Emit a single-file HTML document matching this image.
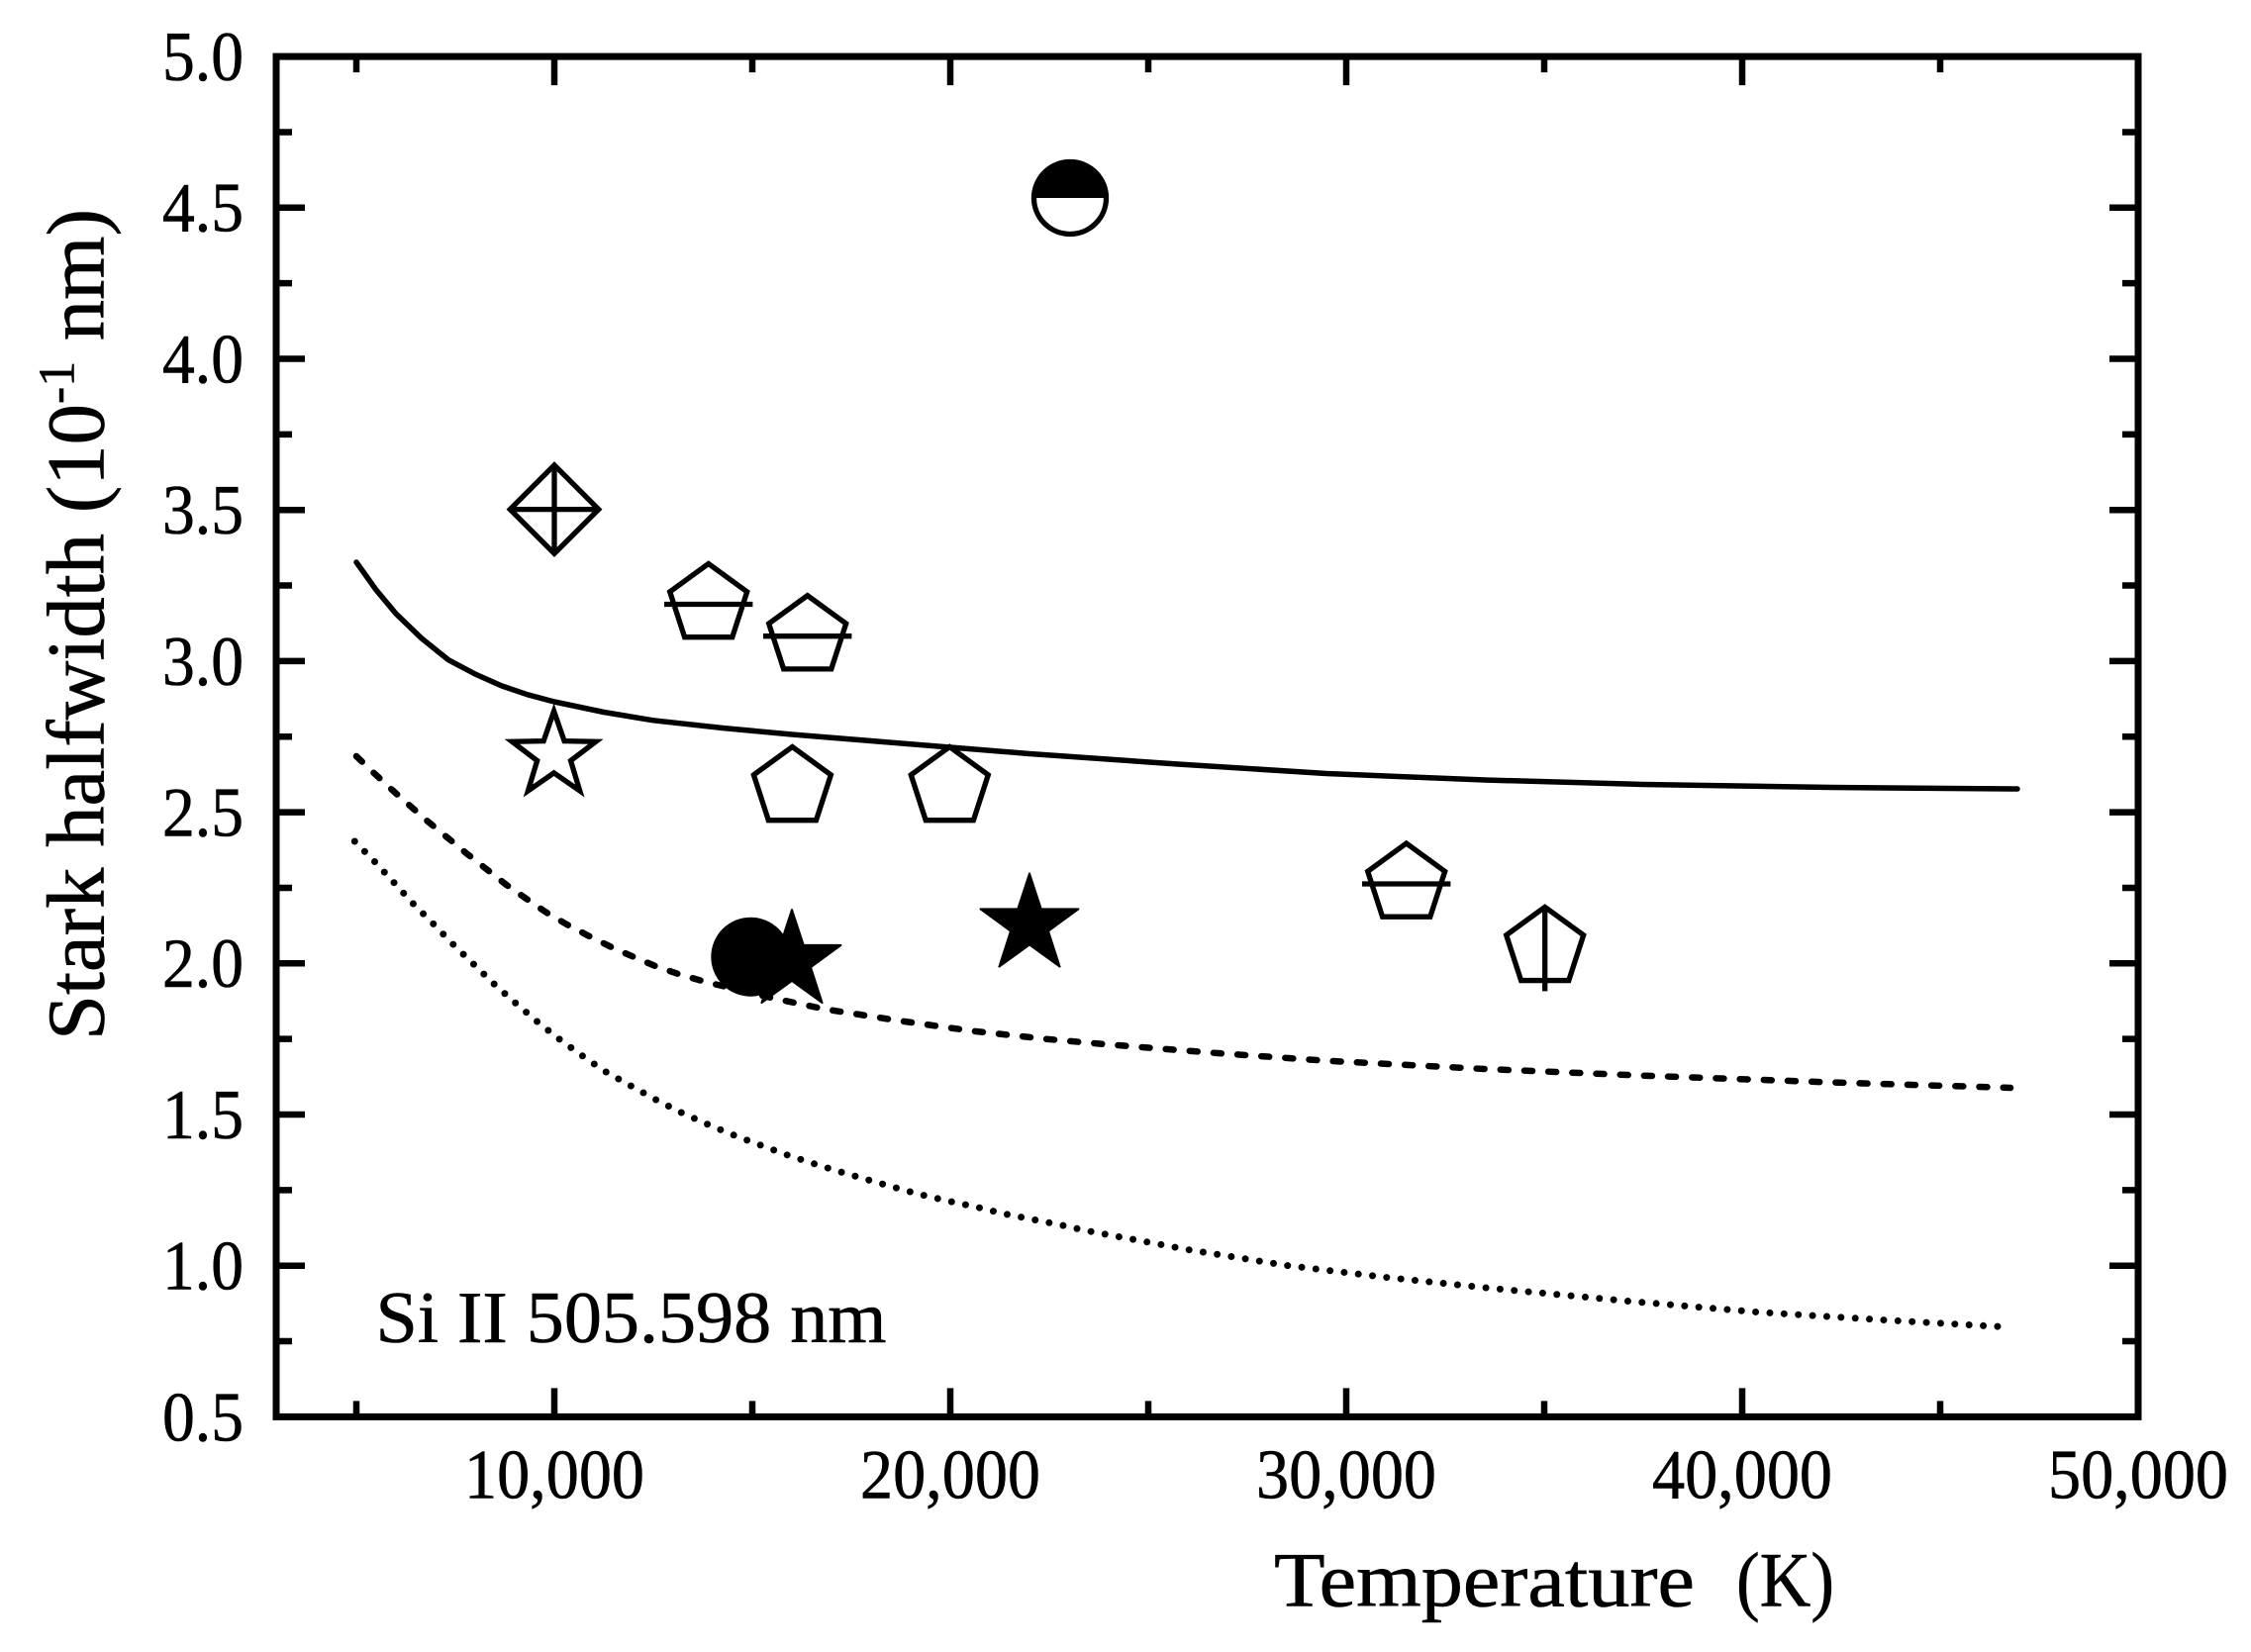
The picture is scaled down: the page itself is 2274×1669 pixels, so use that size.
<!DOCTYPE html>
<html>
<head>
<meta charset="utf-8">
<style>
html,body{margin:0;padding:0;background:#fff;}
svg{display:block;}
text{font-family:"Liberation Serif","DejaVu Serif",serif;fill:#000;stroke:#000;stroke-width:0.6;}
</style>
</head>
<body>
<svg width="2274" height="1669" viewBox="0 0 2274 1669" xmlns="http://www.w3.org/2000/svg">
<rect x="0" y="0" width="2274" height="1669" fill="#fff"/>

<!-- curves -->
<path d="M360,568 L380,596 L400,620 L426,645 L453,666.7 L480,681 L507,693 L533,701.8 L560,709 L610,719.5 L660,727.8 L730,735.5 L800,742 L880,748.5 L960,755 L1040,761.5 L1190,772 L1340,781.5 L1500,788 L1660,792.5 L1850,795.5 L2038,797" fill="none" stroke="#000" stroke-width="5.5" stroke-linejoin="round" stroke-linecap="round"/>

<path d="M360,764 L376.7,780 L395,797 L413.3,813.3 L431.7,829.5 L451.7,846 L471.7,862.5 L490.7,877.5 L510.7,893.3 L530.7,907.3 L551.7,921.7 L572.7,934 L595,945.7 L617.3,956.7 L640,966.7 L663.3,976.5 L686.7,984.5 L711.7,991.7 L750,1001 L783.3,1009 L833,1019.5 L906.7,1031 L981.7,1041.5 L1056.7,1049.7 L1120,1055.3 L1230,1064 L1340,1071.7 L1500,1080 L1660,1086.7 L1850,1093.5 L2031,1099" fill="none" stroke="#000" stroke-width="6.5" stroke-linejoin="round" stroke-linecap="round" stroke-dasharray="8 16.2"/>

<path d="M358.3,850 L379,871 L398.3,892 L417.7,913.3 L437.7,933.3 L457.7,954 L478.3,974 L499,994 L520,1012.7 L541.7,1031.3 L564.3,1049.3 L587.7,1066.3 L611,1082.3 L636,1096.3 L660.7,1110 L686.7,1123.3 L712.7,1135 L739,1146 L765.7,1156 L792.7,1166 L820,1175 L846.7,1183.3 L874.3,1191.3 L902.3,1199.3 L929.3,1206.7 L957.3,1213.3 L985.7,1219.3 L1013.3,1226 L1041.7,1231.7 L1070,1237.3 L1097.3,1243.3 L1111.7,1246 L1200,1262.5 L1300,1278.5 L1400,1290.5 L1505,1301.4 L1648,1314.8 L1776.4,1325.7 L1909.7,1334 L2024,1340.5" fill="none" stroke="#000" stroke-width="7" stroke-linejoin="round" stroke-linecap="round" stroke-dasharray="0 14.4"/>

<!-- frame -->
<rect x="279" y="57.1" width="1881" height="1374.3" fill="none" stroke="#000" stroke-width="7"/>

<!-- ticks -->
<path fill="none" stroke="#000" stroke-width="6.5" d="
M279,209.8 h29 M279,362.5 h29 M279,515.2 h29 M279,667.9 h29 M279,820.6 h29 M279,973.3 h29 M279,1126 h29 M279,1278.7 h29
M2160,209.8 h-29 M2160,362.5 h-29 M2160,515.2 h-29 M2160,667.9 h-29 M2160,820.6 h-29 M2160,973.3 h-29 M2160,1126 h-29 M2160,1278.7 h-29
M279,133.45 h16 M279,286.15 h16 M279,438.85 h16 M279,591.55 h16 M279,744.25 h16 M279,896.95 h16 M279,1049.65 h16 M279,1202.35 h16 M279,1355.05 h16
M2160,133.45 h-16 M2160,286.15 h-16 M2160,438.85 h-16 M2160,591.55 h-16 M2160,744.25 h-16 M2160,896.95 h-16 M2160,1049.65 h-16 M2160,1202.35 h-16 M2160,1355.05 h-16
M560,57.1 v29 M960,57.1 v29 M1360,57.1 v29 M1760,57.1 v29
M560,1431.4 v-29 M960,1431.4 v-29 M1360,1431.4 v-29 M1760,1431.4 v-29
M360,57.1 v16 M760,57.1 v16 M1160,57.1 v16 M1560,57.1 v16 M1960,57.1 v16
M360,1431.4 v-16 M760,1431.4 v-16 M1160,1431.4 v-16 M1560,1431.4 v-16 M1960,1431.4 v-16
"/>

<!-- y tick labels -->
<g font-size="71">
<text x="164" y="81" textLength="82" lengthAdjust="spacingAndGlyphs">5.0</text>
<text x="164" y="233.7" textLength="82" lengthAdjust="spacingAndGlyphs">4.5</text>
<text x="164" y="386.4" textLength="82" lengthAdjust="spacingAndGlyphs">4.0</text>
<text x="164" y="539.1" textLength="82" lengthAdjust="spacingAndGlyphs">3.5</text>
<text x="164" y="691.8" textLength="82" lengthAdjust="spacingAndGlyphs">3.0</text>
<text x="164" y="844.5" textLength="82" lengthAdjust="spacingAndGlyphs">2.5</text>
<text x="164" y="997.2" textLength="82" lengthAdjust="spacingAndGlyphs">2.0</text>
<text x="164" y="1149.9" textLength="82" lengthAdjust="spacingAndGlyphs">1.5</text>
<text x="164" y="1302.6" textLength="82" lengthAdjust="spacingAndGlyphs">1.0</text>
<text x="164" y="1455.3" textLength="82" lengthAdjust="spacingAndGlyphs">0.5</text>
</g>

<!-- x tick labels -->
<g font-size="71">
<text x="469" y="1513.6" textLength="182" lengthAdjust="spacingAndGlyphs">10,000</text>
<text x="869" y="1513.6" textLength="182" lengthAdjust="spacingAndGlyphs">20,000</text>
<text x="1269" y="1513.6" textLength="182" lengthAdjust="spacingAndGlyphs">30,000</text>
<text x="1669" y="1513.6" textLength="182" lengthAdjust="spacingAndGlyphs">40,000</text>
<text x="2069" y="1513.6" textLength="182" lengthAdjust="spacingAndGlyphs">50,000</text>
</g>

<!-- axis titles -->
<text x="1287" y="1622.7" font-size="78" textLength="425" lengthAdjust="spacingAndGlyphs">Temperature</text>
<text x="1754" y="1622.7" font-size="78" textLength="99" lengthAdjust="spacingAndGlyphs">(K)</text>

<text transform="translate(104.5,1051) rotate(-90)" x="0" y="0" font-size="83" textLength="840" lengthAdjust="spacingAndGlyphs">Stark halfwidth (10<tspan font-size="52" dy="-30">-1</tspan><tspan dy="30"> nm)</tspan></text>

<text x="379.5" y="1355.8" font-size="74" textLength="516" lengthAdjust="spacingAndGlyphs">Si II 505.598 nm</text>

<!-- markers -->
<g fill="none" stroke="#000" stroke-width="5.3" stroke-linejoin="miter">
  <path transform="translate(560,514.6)" d="M0,-44.7 L44.7,0 L0,44.7 L-44.7,0 Z M0,-44.7 V44.7 M-44.7,0 H44.7"/>
  <g transform="translate(715.7,610.5)"><polygon points="0,-41 39,-12.67 24.1,33.17 -24.1,33.17 -39,-12.67"/><path d="M-44.7,0 H44.7"/></g>
  <g transform="translate(815.7,642.7)"><polygon points="0,-41 39,-12.67 24.1,33.17 -24.1,33.17 -39,-12.67"/><path d="M-44.7,0 H44.7"/></g>
  <g transform="translate(1420.7,893)"><polygon points="0,-41 39,-12.67 24.1,33.17 -24.1,33.17 -39,-12.67"/><path d="M-44.7,0 H44.7"/></g>
  <g transform="translate(1560.7,957.4)"><polygon points="0,-41 39,-12.67 24.1,33.17 -24.1,33.17 -39,-12.67"/><path d="M0,-41 V44"/></g>
  <polygon transform="translate(800.4,795.5)" points="0,-41 39,-12.67 24.1,33.17 -24.1,33.17 -39,-12.67"/>
  <polygon transform="translate(959.3,795.5)" points="0,-41 39,-12.67 24.1,33.17 -24.1,33.17 -39,-12.67"/>
  <polygon transform="translate(559.6,763)" points="0,-44.5 10.46,-14.4 42.32,-13.75 16.93,5.5 26.16,36 0,17.8 -26.16,36 -16.93,5.5 -42.32,-13.75 -10.46,-14.4"/>
</g>

<!-- filled circle -->
<circle cx="758.3" cy="966.7" r="40" fill="#000"/>
<!-- filled stars -->
<polygon transform="translate(800,971)" fill="#000" stroke="#000" stroke-width="2" stroke-linejoin="round" points="0,-52 11.76,-16.18 49.45,-16.07 19.02,6.18 30.56,42.07 0,20 -30.56,42.07 -19.02,6.18 -49.45,-16.07 -11.76,-16.18"/>
<polygon transform="translate(1040,934.5)" fill="#000" stroke="#000" stroke-width="2" stroke-linejoin="round" points="0,-52 11.76,-16.18 49.45,-16.07 19.02,6.18 30.56,42.07 0,20 -30.56,42.07 -19.02,6.18 -49.45,-16.07 -11.76,-16.18"/>

<!-- half-filled circle -->
<path d="M1042,200 A39,39 0 0 1 1120,200 Z" fill="#000"/>
<circle cx="1081" cy="200" r="36.5" fill="none" stroke="#000" stroke-width="5.3"/>

</svg>
</body>
</html>
